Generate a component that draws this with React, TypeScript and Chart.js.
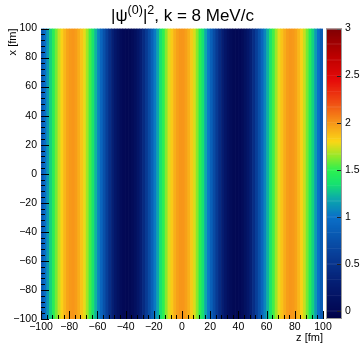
import React, { useEffect, useRef } from "react";
import { Chart, registerables } from "chart.js";

Chart.register(...registerables);

// ---- data ----
// title pieces: [text, isSuperscript]
const titleParts: [string, boolean][] = [
  ["|ψ", false],
  ["(0)", true],
  ["|", false],
  ["2", true],
  [", k = 8 MeV/c", false],
];
const xAxisTitle = "z [fm]";
const yAxisTitle = "x [fm]";

// z bin centres (2 fm bins), each column spans the full x range
const zCenters = [
  -99, -97, -95, -93, -91, -89, -87, -85, -83, -81,
  -79, -77, -75, -73, -71, -69, -67, -65, -63, -61,
  -59, -57, -55, -53, -51, -49, -47, -45, -43, -41,
  -39, -37, -35, -33, -31, -29, -27, -25, -23, -21,
  -19, -17, -15, -13, -11, -9, -7, -5, -3, -1,
  1, 3, 5, 7, 9, 11, 13, 15, 17, 19,
  21, 23, 25, 27, 29, 31, 33, 35, 37, 39,
  41, 43, 45, 47, 49, 51, 53, 55, 57, 59,
  61, 63, 65, 67, 69, 71, 73, 75, 77, 79,
  81, 83, 85, 87, 89, 91, 93, 95, 97, 99,
];

// |psi|^2 read per z column
const zValues = [
  0.83, 0.99, 1.15, 1.31, 1.46, 1.60, 1.72, 1.82, 1.90, 1.96,
  1.99, 2.00, 1.98, 1.93, 1.86, 1.77, 1.66, 1.53, 1.38, 1.23,
  1.07, 0.91, 0.75, 0.60, 0.45, 0.32, 0.21, 0.13, 0.06, 0.02,
  0.00, 0.01, 0.05, 0.11, 0.19, 0.30, 0.42, 0.56, 0.71, 0.87,
  1.03, 1.19, 1.35, 1.49, 1.63, 1.75, 1.84, 1.92, 1.97, 2.00,
  2.00, 1.97, 1.92, 1.84, 1.75, 1.63, 1.49, 1.35, 1.19, 1.03,
  0.87, 0.71, 0.56, 0.42, 0.30, 0.19, 0.11, 0.05, 0.01, 0.00,
  0.02, 0.06, 0.13, 0.21, 0.32, 0.45, 0.60, 0.75, 0.91, 1.07,
  1.23, 1.38, 1.53, 1.66, 1.77, 1.86, 1.93, 1.98, 2.00, 1.99,
  1.96, 1.90, 1.82, 1.72, 1.60, 1.46, 1.31, 1.15, 0.99, 0.83,
];

const axisRange = [-100, 100];
const axisTickLabels = [-100, -80, -60, -40, -20, 0, 20, 40, 60, 80, 100];
const colorRange = [-0.085, 3];
const colorTickLabels = [0, 0.5, 1, 1.5, 2, 2.5, 3];

// ---- palette (value, r, g, b) ----
const paletteStops: number[][] = [
  [-0.085, 0, 0, 68],
  [0.0, 2, 8, 84],
  [0.3, 5, 30, 115],
  [0.6, 8, 62, 152],
  [1.0, 10, 112, 200],
  [1.2, 12, 170, 170],
  [1.35, 22, 225, 112],
  [1.5, 45, 240, 80],
  [1.65, 150, 232, 40],
  [1.8, 250, 215, 22],
  [2.0, 247, 150, 25],
  [2.2, 240, 82, 20],
  [2.45, 230, 12, 10],
  [2.7, 190, 0, 0],
  [3.0, 128, 0, 4],
];

function colorFor(v: number): string {
  const s = paletteStops;
  if (v <= s[0][0]) return `rgb(${s[0][1]},${s[0][2]},${s[0][3]})`;
  for (let i = 1; i < s.length; i++) {
    if (v <= s[i][0]) {
      const a = s[i - 1];
      const b = s[i];
      const t = (v - a[0]) / (b[0] - a[0]);
      const r = Math.round(a[1] + (b[1] - a[1]) * t);
      const g = Math.round(a[2] + (b[2] - a[2]) * t);
      const bl = Math.round(a[3] + (b[3] - a[3]) * t);
      return `rgb(${r},${g},${bl})`;
    }
  }
  const l = s[s.length - 1];
  return `rgb(${l[1]},${l[2]},${l[3]})`;
}

const FONT = "'Liberation Sans', Arial, Helvetica, sans-serif";
const fmt = (v: number) => String(v).replace("-", "\u2212");

const W = 362;
const H = 346;

const titlePlugin = {
  id: "rootTitle",
  afterDraw(chart: any) {
    const { ctx } = chart;
    const big = `17px ${FONT}`;
    const small = `12.5px ${FONT}`;
    ctx.save();
    ctx.fillStyle = "#000";
    ctx.textBaseline = "alphabetic";
    ctx.textAlign = "left";
    let total = 0;
    const widths = titleParts.map(([t, sup]) => {
      ctx.font = sup ? small : big;
      const w = ctx.measureText(t).width;
      total += w;
      return w;
    });
    let x = 182.5 - total / 2;
    const baseY = 20.5;
    titleParts.forEach(([t, sup], i) => {
      ctx.font = sup ? small : big;
      ctx.fillText(t, x, sup ? baseY - 7 : baseY);
      x += widths[i];
    });
    ctx.restore();
  },
};

const mainTicksPlugin = {
  id: "inwardTicks",
  afterDatasetsDraw(chart: any) {
    const { ctx, chartArea, scales } = chart;
    const { left, bottom } = chartArea;
    ctx.save();
    ctx.strokeStyle = "#000";
    ctx.lineWidth = 1;
    for (let v = axisRange[0]; v <= axisRange[1]; v += 4) {
      const major = v % 20 === 0;
      const px = Math.round(scales.x.getPixelForValue(v)) + 0.5;
      ctx.beginPath();
      ctx.moveTo(px, bottom);
      ctx.lineTo(px, bottom - (major ? 8 : 4));
      ctx.stroke();
      const py = Math.round(scales.y.getPixelForValue(v)) + 0.5;
      ctx.beginPath();
      ctx.moveTo(left, py);
      ctx.lineTo(left + (major ? 8 : 4), py);
      ctx.stroke();
    }
    ctx.restore();
  },
};

const colorbarPlugin = {
  id: "colorbarDeco",
  afterDatasetsDraw(chart: any) {
    const { ctx, chartArea, scales } = chart;
    const { left, right, top, bottom } = chartArea;
    ctx.save();
    ctx.strokeStyle = "#222";
    ctx.lineWidth = 1;
    colorTickLabels.forEach((v) => {
      const py = Math.round(scales.y.getPixelForValue(v)) + 0.5;
      ctx.beginPath();
      ctx.moveTo(right, py);
      ctx.lineTo(right - 5, py);
      ctx.stroke();
    });
    ctx.strokeStyle = "#9a9a9a";
    ctx.strokeRect(left + 0.5, top + 0.5, right - left - 1, bottom - top - 1);
    ctx.restore();
  },
};

export default function App() {
  const mainRef = useRef<HTMLCanvasElement | null>(null);
  const barRef = useRef<HTMLCanvasElement | null>(null);

  useEffect(() => {
    Chart.defaults.font.family = FONT;
    Chart.defaults.color = "#000";

    const points = zCenters.map((z) => ({ x: z, y: [axisRange[0], axisRange[1]] }));
    const colors = zValues.map((v) => colorFor(v));

    const main = new Chart(mainRef.current as HTMLCanvasElement, {
      type: "bar",
      data: {
        datasets: [
          {
            label: "|ψ(0)|², k = 8 MeV/c",
            data: points as any,
            backgroundColor: colors,
            borderWidth: 0,
            barPercentage: 1,
            categoryPercentage: 1,
          },
        ],
      },
      options: {
        animation: false,
        responsive: false,
        devicePixelRatio: 1,
        layout: { padding: { left: 0, right: 39, top: 28.5, bottom: 0 } },
        plugins: {
          legend: { display: false },
          tooltip: { enabled: false },
          title: { display: false },
        },
        scales: {
          x: {
            type: "linear",
            min: axisRange[0],
            max: axisRange[1],
            offset: false,
            grid: { display: false, drawTicks: false },
            border: { display: false },
            afterBuildTicks: (s: any) => {
              s.ticks = axisTickLabels.map((v) => ({ value: v }));
            },
            afterFit: (s: any) => {
              s.height = 27;
            },
            ticks: {
              autoSkip: false,
              maxRotation: 0,
              padding: 2,
              font: { size: 10.5, family: FONT },
              color: "#000",
              callback: (v: any) => fmt(Number(v)),
            },
            title: {
              display: true,
              text: xAxisTitle,
              align: "end",
              font: { size: 11, family: FONT },
              color: "#000",
              padding: { top: 0, bottom: 1.5 },
            },
          },
          y: {
            type: "linear",
            min: axisRange[0],
            max: axisRange[1],
            grid: { display: false, drawTicks: false },
            border: { display: false },
            afterBuildTicks: (s: any) => {
              s.ticks = axisTickLabels.map((v) => ({ value: v }));
            },
            afterFit: (s: any) => {
              s.width = 41;
            },
            ticks: {
              autoSkip: false,
              padding: 4,
              font: { size: 10.5, family: FONT },
              color: "#000",
              callback: (v: any) => fmt(Number(v)),
            },
            title: {
              display: true,
              text: yAxisTitle,
              align: "end",
              font: { size: 11, family: FONT },
              color: "#000",
              padding: { top: 6.4, bottom: 0 },
            },
          },
        },
      } as any,
      plugins: [mainTicksPlugin, titlePlugin],
    });

    // colour bar: horizontal floating bars stacked along the value axis
    const nSeg = 309;
    const segW = (colorRange[1] - colorRange[0]) / nSeg;
    const segs: any[] = [];
    const segColors: string[] = [];
    for (let i = 0; i < nSeg; i++) {
      const c = colorRange[0] + segW * (i + 0.5);
      segs.push({ y: c, x: [0, 1] });
      segColors.push(colorFor(c));
    }

    const bar = new Chart(barRef.current as HTMLCanvasElement, {
      type: "bar",
      data: {
        datasets: [
          {
            data: segs,
            backgroundColor: segColors,
            borderWidth: 0,
            barPercentage: 1,
            categoryPercentage: 1,
          },
        ],
      },
      options: {
        indexAxis: "y",
        animation: false,
        responsive: false,
        devicePixelRatio: 1,
        layout: { padding: { left: 6, right: 0, top: 28.5, bottom: 27 } },
        plugins: {
          legend: { display: false },
          tooltip: { enabled: false },
          title: { display: false },
        },
        scales: {
          x: { type: "linear", min: 0, max: 1, display: false },
          y: {
            type: "linear",
            position: "right",
            min: colorRange[0],
            max: colorRange[1],
            offset: false,
            grid: { display: false, drawTicks: false },
            border: { display: false },
            afterBuildTicks: (s: any) => {
              s.ticks = colorTickLabels.map((v) => ({ value: v }));
            },
            afterFit: (s: any) => {
              s.width = 20;
            },
            ticks: {
              autoSkip: false,
              padding: 3,
              font: { size: 10.5, family: FONT },
              color: "#000",
              callback: (v: any) => String(v),
            },
          },
        },
      } as any,
      plugins: [colorbarPlugin],
    });

    return () => {
      main.destroy();
      bar.destroy();
    };
  }, []);

  return (
    <div style={{ position: "fixed", left: 0, top: 0, width: W, height: H, background: "#fff" }}>
      <canvas
        ref={mainRef}
        width={W}
        height={H}
        style={{ position: "absolute", left: 0, top: 0, width: W, height: H, display: "block" }}
      />
      <canvas
        ref={barRef}
        width={42}
        height={H}
        style={{ position: "absolute", left: 320, top: 0, width: 42, height: H, display: "block" }}
      />
    </div>
  );
}
